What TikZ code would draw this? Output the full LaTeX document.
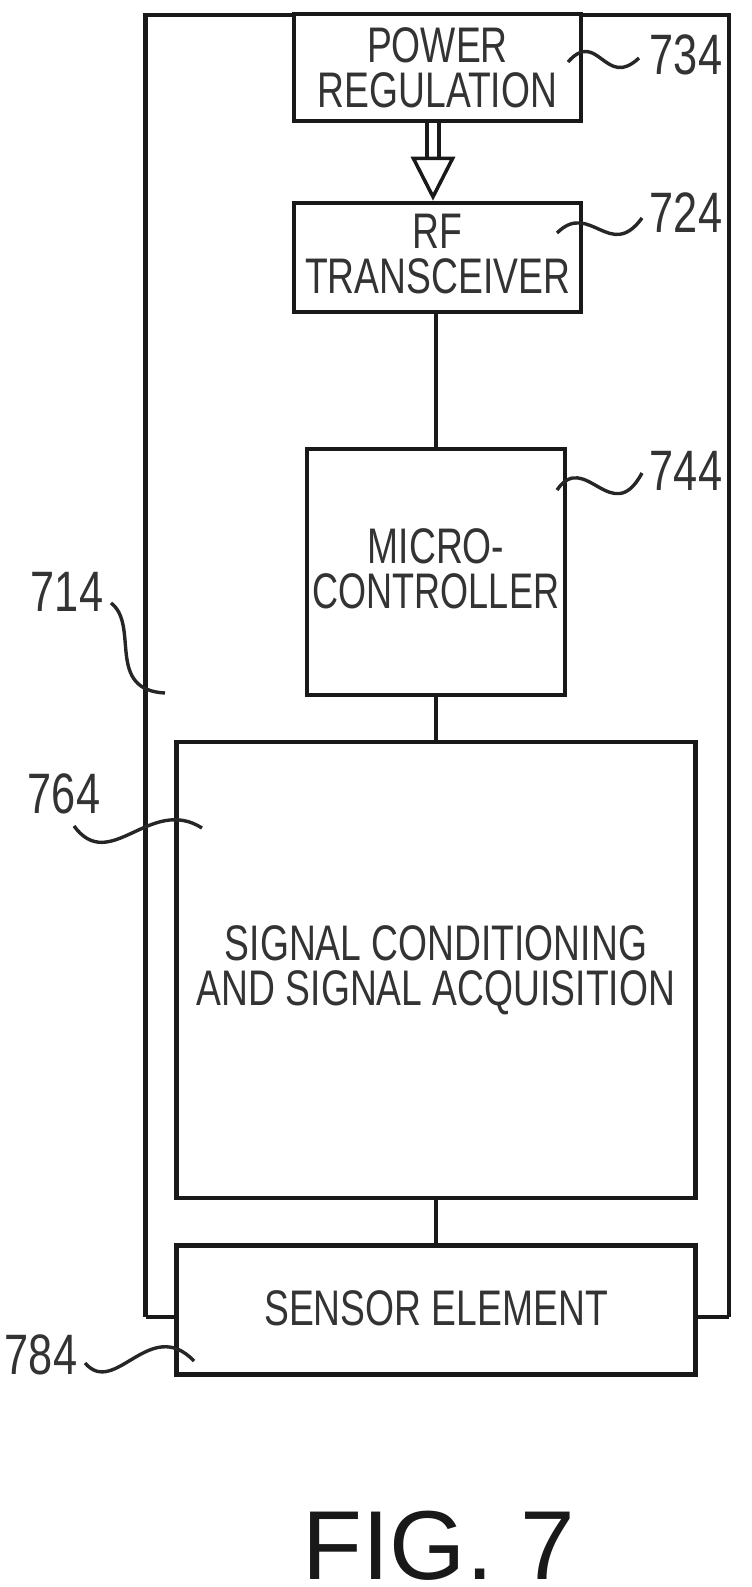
\documentclass[tikz,border=0pt]{standalone}
\usepackage{fontspec}
\setmainfont{Liberation Sans}
\usetikzlibrary{arrows.meta}
\newcommand{\squeezed}[2][.745]{\scalebox{#1}[1]{#2}}

\begin{document}
\begin{tikzpicture}[
            x = 1pt, y = -1pt,
  boxed/.style = {draw=black!90, line width=4.6pt, fill=white, align=center, inner sep=0pt,
                  text=black!80, text depth=0pt, font=\fontsize{50}{45}\selectfont},
   wire/.style = {draw=black!90, line width=4.6pt},
   lead/.style = {draw=black!85, line width=3.4pt},
  refnum/.style = {text=black!80, font=\fontsize{57}{57}\selectfont, inner sep=0pt, xscale=.76, transform shape}
                        ]
\useasboundingbox (0,0) rectangle (752,1587);
% outer frame
    \coordinate (frameBL) at (145.5,1317);
    \coordinate (frameBR) at (729,1317);
    \coordinate (frameTL) at (145.5,15);
    \coordinate (frameTR) at (729,15);
    \draw[wire] (frameBL) -- (frameTL) -- (frameTR) -- (frameBR);
% blocks
    \node[boxed, text height=79pt, minimum width=287pt, minimum height=107pt] (power) at (437.5,67.5) {\squeezed{POWER}\\\squeezed{REGULATION}};
    \node[boxed, text height=71pt, minimum width=287pt, minimum height=109pt] (rf) at (437.5,257.5) {\squeezed{RF}\\\squeezed{TRANSCEIVER}};
    \node[boxed, text height=72pt, minimum width=258pt, minimum height=246pt] (micro) at (436,572) {\squeezed{MICRO-}\\\squeezed[.72]{CONTROLLER}};
    \node[boxed, text height=70pt, minimum width=519pt, minimum height=456pt] (signal) at (436,970) {\squeezed{SIGNAL CONDITIONING}\\\squeezed{AND SIGNAL ACQUISITION}};
    \node[boxed, text height=30pt, minimum width=519pt, minimum height=129pt] (sensor) at (436,1310) {\squeezed{SENSOR ELEMENT}};
    \draw[wire] (frameBL) -- (sensor.west |- frameBL);
    \draw[wire] (frameBR) -- (sensor.east |- frameBR);
% connections
    \draw[wire] (rf.south -| micro.north) -- (micro.north);
    \draw[wire] (micro.south) -- (signal.north);
    \draw[wire] (signal.south) -- (sensor.north);
    \draw[draw=black!90, line width=3.5pt, double=white, double distance=8.5pt,
          -{Triangle[open, fill=white, length=44pt, width=44pt, line width=3.5pt]}]
          ([xshift=-4.5pt]power.south) -- ([xshift=-4.5pt]rf.north);
% reference numbers
    \node[refnum] (l734) at (686,55) {734};
    \node[refnum] (l724) at (686,213) {724};
    \node[refnum] (l744) at (686,471) {744};
    \node[refnum] (l714) at (67,592) {714};
    \node[refnum] (l764) at (64,794) {764};
    \node[refnum] (l784) at (41,1355) {784};
    \coordinate (c734) at (568,62);
    \coordinate (c724) at (557,233);
    \coordinate (c744) at (557,490);
    \coordinate (c714) at (165,693);
    \coordinate (c764) at (202,828);
    \coordinate (c784) at (194,1361);
    \draw[lead] (c734) .. controls (598,28) and (605,90) .. (639,58);
    \draw[lead] (c724) .. controls (590,200) and (610,262) .. (642,218);
    \draw[lead] (c744) .. controls (585,449) and (612,529) .. (642,473);
    \draw[lead] (111,603) .. controls (140,625) and (105,690) .. (c714);
    \draw[lead] (74,826) .. controls (110,875) and (150,795) .. (c764);
    \draw[lead] (85,1363) .. controls (115,1398) and (150,1315) .. (c784);
% figure title
    \node[text=black!90, font=\fontsize{98}{98}\selectfont, inner sep=0pt] (title) at (439,1546) {FIG. 7};
\end{tikzpicture}
\end{document}
